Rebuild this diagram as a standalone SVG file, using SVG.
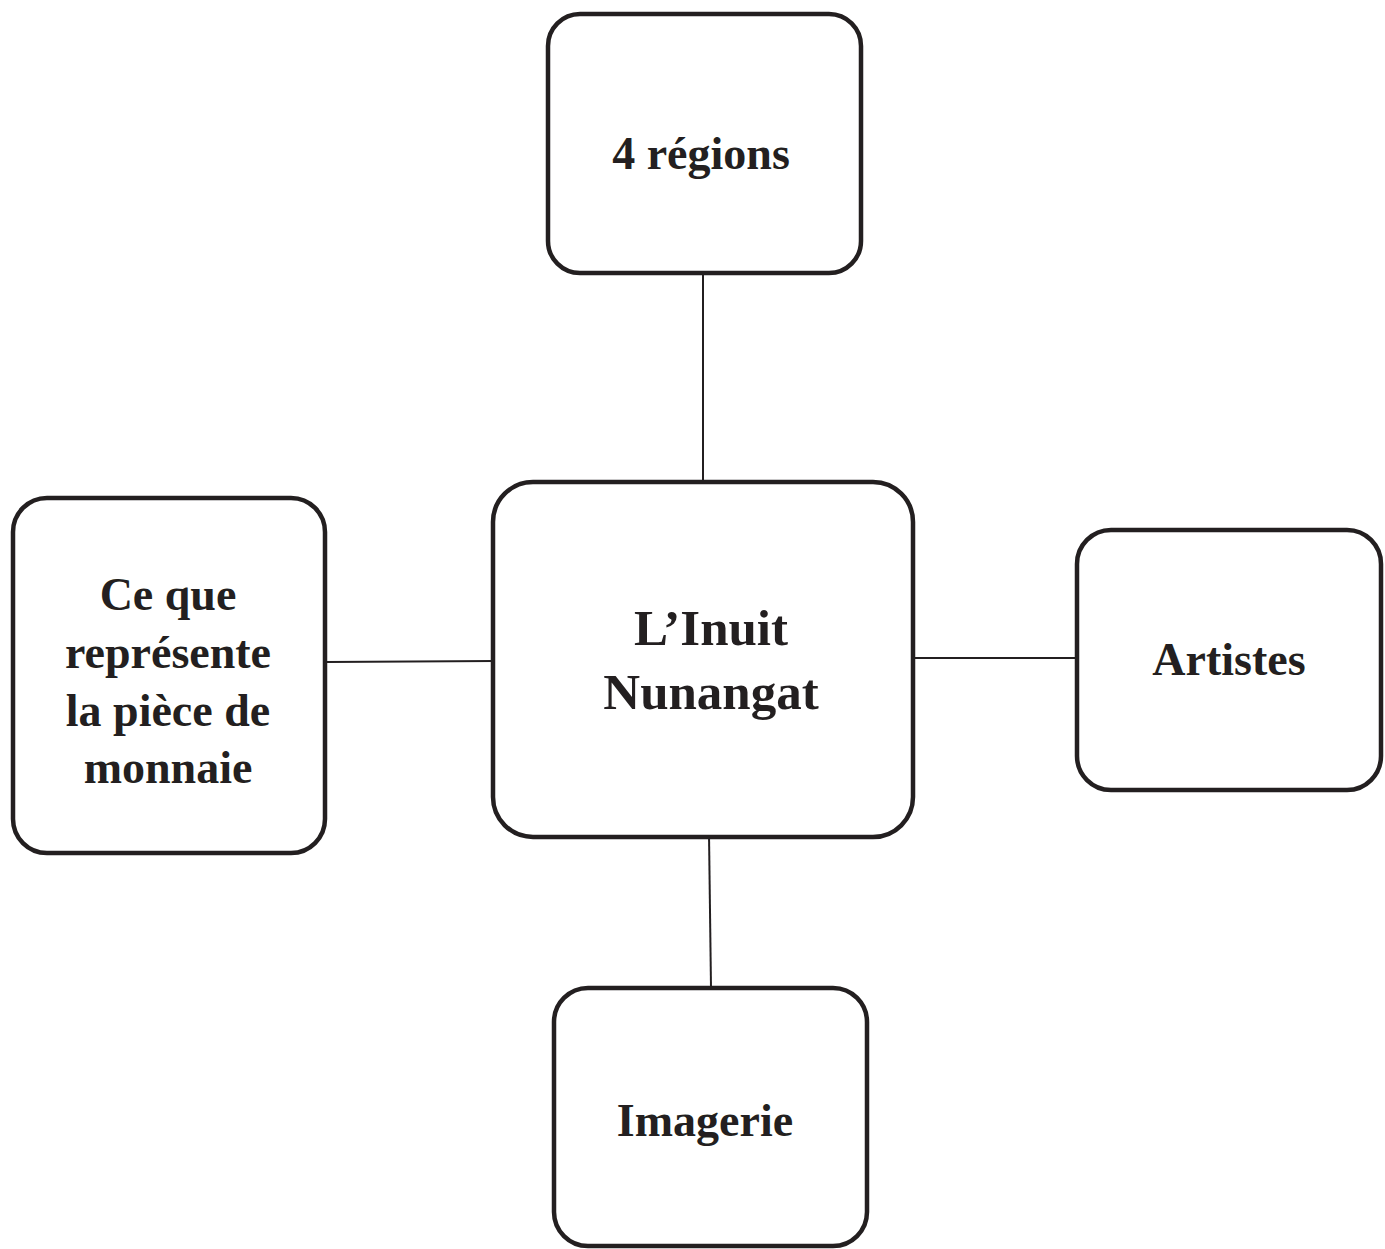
<svg xmlns="http://www.w3.org/2000/svg" width="1385" height="1249" viewBox="0 0 1385 1249">
<style>
.box{fill:#fff;stroke:#231f20;stroke-width:4.5}
.con{stroke:#231f20;stroke-width:2;fill:none}
.t{font-family:"Liberation Serif","Times New Roman",serif;font-weight:bold;font-size:46px;fill:#231f20;text-anchor:middle}
.big{font-size:51px}
</style>
<rect width="1385" height="1249" fill="#fff"/>
<g id="connectors">
<line class="con" x1="703" y1="272" x2="703" y2="482"/>
<line class="con" x1="327" y1="662" x2="495" y2="661"/>
<line class="con" x1="913" y1="658" x2="1077" y2="658"/>
<line class="con" x1="709" y1="834" x2="711" y2="988"/>
</g>
<g id="node-regions">
<rect class="box" x="548" y="14" width="313" height="259" rx="32"/>
<text class="t" x="701" y="169">4 régions</text>
</g>
<g id="node-center">
<rect class="box" x="493" y="482" width="420" height="355" rx="40"/>
<text class="t big" x="711" y="645">L’Inuit</text>
<text class="t big" x="711" y="709">Nunangat</text>
</g>
<g id="node-piece">
<rect class="box" x="13" y="498" width="312" height="355" rx="34"/>
<text class="t" x="168" y="610">Ce que</text>
<text class="t" x="168" y="668">représente</text>
<text class="t" x="168" y="726">la pièce de</text>
<text class="t" x="168" y="783">monnaie</text>
</g>
<g id="node-artistes">
<rect class="box" x="1077" y="530" width="304" height="260" rx="34"/>
<text class="t" x="1229" y="675">Artistes</text>
</g>
<g id="node-imagerie">
<rect class="box" x="554" y="988" width="313" height="258" rx="34"/>
<text class="t" x="705" y="1136">Imagerie</text>
</g>
</svg>
